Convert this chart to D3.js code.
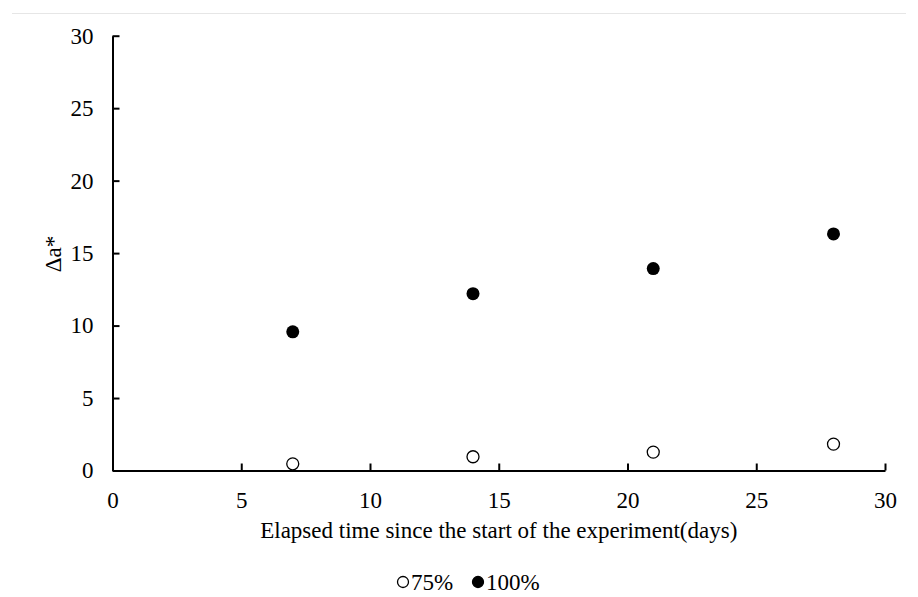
<!DOCTYPE html>
<html>
<head>
<meta charset="utf-8">
<script src="https://cdn.jsdelivr.net/npm/d3@7"></script>
<style>
  body { margin: 0; background: #fff; }
</style>
</head>
<body>
<div id="chart"></div>
<script>
var days = [7, 14, 21, 28];
var series75 = [0.46, 0.95, 1.27, 1.82];
var series100 = [9.57, 12.2, 13.93, 16.32];
var xTicks = [0, 5, 10, 15, 20, 25, 30];
var yTicks = [0, 5, 10, 15, 20, 25, 30];
var seriesNames = ["75%", "100%"];

var serif = "Liberation Serif, Times New Roman, serif";
var width = 918, height = 597;
var margin = { left: 112.5, right: 918 - 885, top: 35.7, bottom: 597 - 470.5 };

var svg = d3.select("#chart").append("svg")
  .attr("width", width)
  .attr("height", height)
  .attr("font-family", serif);

// faint frame line at the top
svg.append("line")
  .attr("x1", 12).attr("x2", 906)
  .attr("y1", 13.5).attr("y2", 13.5)
  .attr("stroke", "#e6e6e6")
  .attr("stroke-width", 1);

var x = d3.scaleLinear().domain([0, 30]).range([margin.left, width - margin.right]);
var y = d3.scaleLinear().domain([0, 30]).range([height - margin.bottom, margin.top]);

var xAxis = svg.append("g")
  .attr("transform", "translate(0," + y(0) + ")")
  .call(d3.axisBottom(x).tickValues(xTicks).tickSizeInner(-7).tickSizeOuter(0).tickPadding(21));
xAxis.attr("font-family", serif).attr("font-size", 23);
xAxis.select(".domain").attr("stroke-width", 2);
xAxis.selectAll(".tick line").attr("stroke-width", 2);

var yAxis = svg.append("g")
  .attr("transform", "translate(" + x(0) + ",0)")
  .call(d3.axisLeft(y).tickValues(yTicks).tickSizeInner(-7).tickSizeOuter(0).tickPadding(19));
yAxis.attr("font-family", serif).attr("font-size", 23);
yAxis.select(".domain").attr("stroke-width", 2);
yAxis.selectAll(".tick line").attr("stroke-width", 2);

svg.append("text")
  .attr("x", (x(0) + x(30)) / 2)
  .attr("y", 538)
  .attr("text-anchor", "middle")
  .attr("font-size", 23)
  .text("Elapsed time since the start of the experiment(days)");

svg.append("text")
  .attr("transform", "translate(61," + 254 + ") rotate(-90)")
  .attr("text-anchor", "middle")
  .attr("font-size", 23)
  .text("Δa*");

svg.selectAll(".p75")
  .data(days)
  .enter()
  .append("circle")
  .attr("class", "p75")
  .attr("cx", function(d) { return x(d); })
  .attr("cy", function(d, i) { return y(series75[i]); })
  .attr("r", 6)
  .attr("fill", "#fff")
  .attr("stroke", "#000")
  .attr("stroke-width", 1.3);

svg.selectAll(".p100")
  .data(days)
  .enter()
  .append("circle")
  .attr("class", "p100")
  .attr("cx", function(d) { return x(d); })
  .attr("cy", function(d, i) { return y(series100[i]); })
  .attr("r", 6.5)
  .attr("fill", "#000");

// legend
var legend = svg.append("g");
var lx = [403, 478];
seriesNames.forEach(function(name, i) {
  legend.append("circle")
    .attr("cx", lx[i])
    .attr("cy", 582)
    .attr("r", 5.5)
    .attr("fill", i === 0 ? "#fff" : "#000")
    .attr("stroke", "#000")
    .attr("stroke-width", 1.3);
  legend.append("text")
    .attr("x", lx[i] + 8)
    .attr("y", 590)
    .attr("font-size", 23)
    .text(name);
});
</script>
</body>
</html>
